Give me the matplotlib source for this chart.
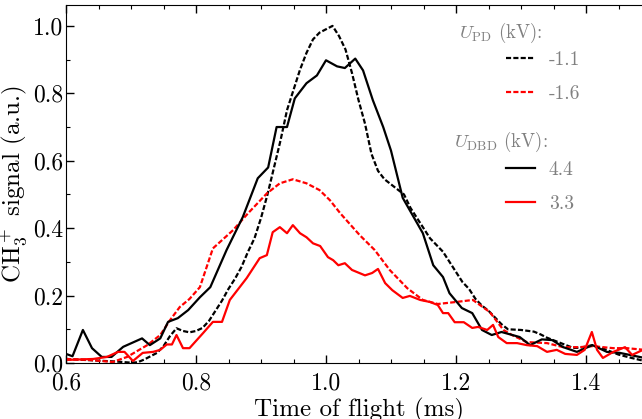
import matplotlib
matplotlib.use("Agg")
import matplotlib.pyplot as plt
from matplotlib.ticker import MultipleLocator, FormatStrFormatter
from matplotlib.lines import Line2D

plt.rcParams['font.family'] = 'serif'
plt.rcParams['font.serif'] = ['cmr10', 'DejaVu Serif']
plt.rcParams['mathtext.fontset'] = 'cm'
plt.rcParams['axes.unicode_minus'] = False
plt.rcParams['axes.formatter.use_mathtext'] = True

# ---- data ----
t_pd11 = [0.60, 0.62, 0.64, 0.66, 0.68, 0.70, 0.71, 0.72, 0.74, 0.75, 0.76, 0.77, 0.78, 0.79,
          0.80, 0.81, 0.82, 0.83, 0.84, 0.85, 0.86, 0.87, 0.88, 0.89, 0.90, 0.91, 0.92, 0.93,
          0.94, 0.95, 0.96, 0.97, 0.98, 0.99, 1.00, 1.01, 1.02, 1.03, 1.04, 1.05, 1.06, 1.07,
          1.08, 1.09, 1.10, 1.11, 1.12, 1.13, 1.14, 1.15, 1.16, 1.17, 1.18, 1.19, 1.20, 1.21,
          1.22, 1.23, 1.24, 1.25, 1.26, 1.27, 1.28, 1.30, 1.32, 1.33, 1.34, 1.36, 1.38, 1.39,
          1.41, 1.43, 1.45, 1.47, 1.49]
v_pd11 = [0.012, 0.010, 0.008, 0.006, 0.004, 0.001, 0.002, 0.010, 0.030, 0.050, 0.080, 0.103, 0.095, 0.091,
          0.095, 0.104, 0.125, 0.155, 0.185, 0.220, 0.250, 0.285, 0.330, 0.370, 0.430, 0.500, 0.580, 0.660,
          0.750, 0.810, 0.870, 0.920, 0.960, 0.980, 0.990, 1.000, 0.970, 0.930, 0.860, 0.780, 0.710, 0.620,
          0.570, 0.545, 0.530, 0.515, 0.500, 0.460, 0.430, 0.400, 0.370, 0.350, 0.330, 0.300, 0.270, 0.240,
          0.220, 0.190, 0.170, 0.155, 0.135, 0.115, 0.100, 0.098, 0.093, 0.085, 0.075, 0.060, 0.045, 0.045,
          0.053, 0.040, 0.025, 0.015, 0.006]

t_pd16 = [0.600, 0.637, 0.672, 0.694, 0.725, 0.745, 0.760, 0.775, 0.790, 0.806, 0.826, 0.857, 0.880,
          0.909, 0.929, 0.949, 0.970, 0.990, 1.006, 1.022, 1.052, 1.075, 1.098, 1.125, 1.149, 1.172,
          1.200, 1.226, 1.252, 1.273, 1.286, 1.309, 1.340, 1.365, 1.390, 1.410, 1.442, 1.463, 1.490]
v_pd16 = [0.012, 0.009, 0.003, 0.018, 0.053, 0.083, 0.127, 0.166, 0.190, 0.225, 0.340, 0.394, 0.444,
          0.503, 0.533, 0.545, 0.533, 0.513, 0.483, 0.444, 0.379, 0.335, 0.276, 0.222, 0.187, 0.175,
          0.181, 0.187, 0.151, 0.098, 0.083, 0.062, 0.059, 0.047, 0.047, 0.050, 0.044, 0.044, 0.039]

t_dbd44 = [0.600, 0.610, 0.626, 0.640, 0.655, 0.670, 0.688, 0.717, 0.729, 0.745, 0.757, 0.772, 0.788,
           0.806, 0.822, 0.847, 0.872, 0.895, 0.911, 0.924, 0.940, 0.952, 0.970, 0.986, 1.000, 1.017,
           1.029, 1.045, 1.057, 1.072, 1.088, 1.100, 1.118, 1.149, 1.165, 1.180, 1.190, 1.209, 1.225,
           1.240, 1.255, 1.270, 1.298, 1.314, 1.332, 1.348, 1.365, 1.386, 1.410, 1.432, 1.452, 1.490]
v_dbd44 = [0.027, 0.020, 0.098, 0.044, 0.018, 0.018, 0.048, 0.073, 0.053, 0.073, 0.122, 0.133, 0.157,
           0.195, 0.225, 0.335, 0.433, 0.548, 0.580, 0.700, 0.700, 0.785, 0.830, 0.853, 0.898, 0.880,
           0.875, 0.903, 0.868, 0.780, 0.700, 0.630, 0.490, 0.385, 0.290, 0.255, 0.207, 0.163, 0.148,
           0.098, 0.083, 0.092, 0.077, 0.053, 0.070, 0.068, 0.047, 0.033, 0.053, 0.033, 0.030, 0.015]

t_dbd33 = [0.600, 0.642, 0.663, 0.680, 0.690, 0.703, 0.718, 0.734, 0.745, 0.755, 0.763, 0.770, 0.780,
           0.790, 0.811, 0.826, 0.840, 0.852, 0.878, 0.898, 0.909, 0.918, 0.929, 0.940, 0.949, 0.960,
           0.970, 0.980, 0.991, 1.003, 1.011, 1.019, 1.029, 1.040, 1.060, 1.071, 1.080, 1.091, 1.102,
           1.118, 1.129, 1.145, 1.160, 1.172, 1.180, 1.188, 1.198, 1.212, 1.225, 1.234, 1.248, 1.257,
           1.265, 1.278, 1.294, 1.309, 1.325, 1.340, 1.355, 1.368, 1.386, 1.398, 1.409, 1.417, 1.426,
           1.442, 1.460, 1.471, 1.490]
v_dbd33 = [0.009, 0.012, 0.018, 0.033, 0.033, 0.006, 0.030, 0.033, 0.039, 0.055, 0.055, 0.083, 0.044,
           0.044, 0.089, 0.122, 0.122, 0.187, 0.252, 0.311, 0.320, 0.388, 0.403, 0.385, 0.409, 0.385,
           0.373, 0.355, 0.347, 0.314, 0.305, 0.290, 0.296, 0.276, 0.260, 0.267, 0.279, 0.237, 0.216,
           0.193, 0.199, 0.187, 0.181, 0.172, 0.148, 0.148, 0.121, 0.121, 0.104, 0.107, 0.098, 0.113,
           0.077, 0.059, 0.059, 0.053, 0.050, 0.033, 0.039, 0.027, 0.024, 0.039, 0.092, 0.039, 0.015,
           0.033, 0.047, 0.024, 0.041]

pd_labels = ['-1.1', '-1.6']
dbd_labels = ['4.4', '3.3']

# ---- figure ----
W, H = 642, 419
fig = plt.figure(figsize=(W / 100, H / 100), dpi=100)
ax = fig.add_axes([66 / W, (H - 363) / H, (651 - 66) / W, (363 - 5) / H])

lw = 1.6
dash = (0, (2.3, 1.0))
ax.plot(t_pd11, v_pd11, color='black', lw=lw, ls=dash)
ax.plot(t_pd16, v_pd16, color='red', lw=lw, ls=dash)
ax.plot(t_dbd44, v_dbd44, color='black', lw=lw)
ax.plot(t_dbd33, v_dbd33, color='red', lw=lw)

ax.set_xlim(0.6, 1.5)
ax.set_ylim(0.0, 1.062)
ax.xaxis.set_major_locator(MultipleLocator(0.2))
ax.xaxis.set_minor_locator(MultipleLocator(0.05))
ax.yaxis.set_major_locator(MultipleLocator(0.2))
ax.yaxis.set_minor_locator(MultipleLocator(0.1))
ax.tick_params(which='both', direction='in', top=True, right=True, labelsize=17)
ax.tick_params(axis='x', pad=7)
ax.tick_params(axis='y', pad=2)
ax.tick_params(which='major', length=6, width=1)
ax.tick_params(which='minor', length=3, width=0.8)
ax.xaxis.set_major_formatter(FormatStrFormatter('%.1f'))
ax.yaxis.set_major_formatter(FormatStrFormatter('%.1f'))

ax.set_xlabel('Time of flight (ms)', fontsize=18, labelpad=2)
ax.set_ylabel(r'CH$_3^+$ signal (a.u.)', fontsize=18, labelpad=3)

gray = '#808080'
fig.text(501 / W, 1 - 33 / H, r'$U_{\rm PD}$ (kV):', color=gray, fontsize=13.5,
         ha='center', va='center')
fig.text(501 / W, 1 - 142 / H, r'$U_{\rm DBD}$ (kV):', color=gray, fontsize=13.5,
         ha='center', va='center')

h1 = [Line2D([], [], color='black', lw=lw, ls=dash), Line2D([], [], color='red', lw=lw, ls=dash)]
h2 = [Line2D([], [], color='black', lw=lw), Line2D([], [], color='red', lw=lw)]
leg_kw = dict(frameon=False, fontsize=14, labelcolor=gray, handlelength=1.5,
              handletextpad=0.7, labelspacing=0.82, borderpad=0, borderaxespad=0,
              loc='upper left', bbox_transform=fig.transFigure)
leg1 = ax.legend(h1, pd_labels, bbox_to_anchor=(506 / W, 1 - 51 / H), **leg_kw)
ax.add_artist(leg1)
leg2 = ax.legend(h2, dbd_labels, bbox_to_anchor=(506 / W, 1 - 161 / H), **leg_kw)

fig.savefig('out.png', dpi=100)
